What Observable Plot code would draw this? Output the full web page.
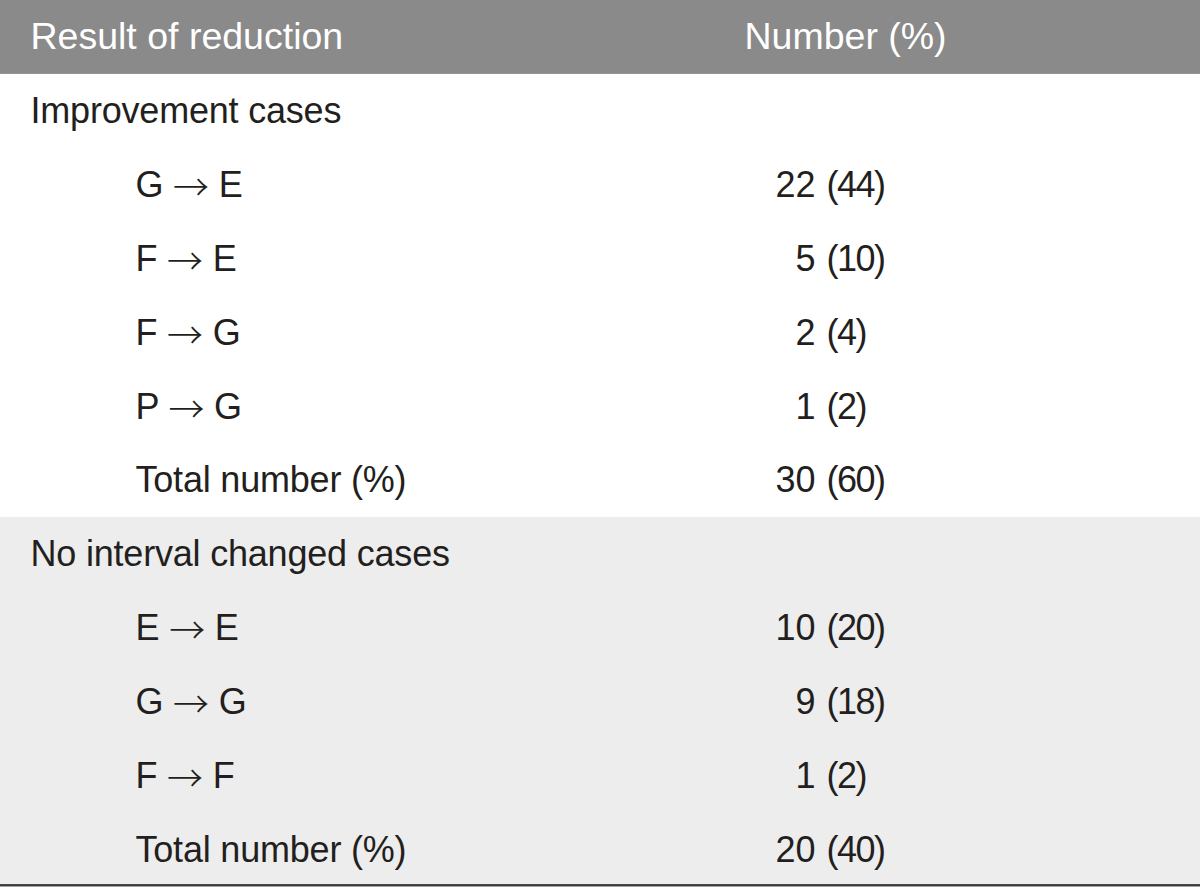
<!DOCTYPE html>
<html><head><meta charset="utf-8">
<script src="https://cdn.jsdelivr.net/npm/d3@7"></script>
<script src="https://cdn.jsdelivr.net/npm/@observablehq/plot@0.6"></script>
<style>
body{margin:0;background:#fff}
#chart svg{display:block}
.pct text{letter-spacing:-1.5px}
.lbl text{letter-spacing:-0.2px}
</style>
</head><body><div id="chart"></div>
<script>
const headers = ["Result of reduction", "Number (%)"];
const labels = ["Improvement cases","G → E","F → E","F → G","P → G","Total number (%)","No interval changed cases","E → E","G → G","F → F","Total number (%)"];
const levels = [0,1,1,1,1,1,0,1,1,1,1];
const groups = ["Improvement","Improvement","Improvement","Improvement","Improvement","Improvement","No change","No change","No change","No change","No change"];
const counts = [null,22,5,2,1,30,null,10,9,1,20];
const pcts = [null,44,10,4,2,60,null,20,18,2,40];

const rowKeys = ["header", ...labels.map((_, i) => "r" + i)];
const rows = labels.map((l, i) => ({key: "r" + i, label: l, level: levels[i], group: groups[i], count: counts[i], pct: pcts[i]}));
const valued = rows.filter(d => d.count != null);
const font = "Liberation Sans, Arial, sans-serif";
const fs = 36;
const ink = "#231f20";
const lastRow = rows.slice(-1);

const chart = Plot.plot({
  width: 1200, height: 887,
  margin: 0,
  x: {domain: [0, 1200], range: [0, 1200], axis: null},
  y: {domain: rowKeys, range: [0, 887], padding: 0, round: false, axis: null, type: "band"},
  style: {fontFamily: font, background: "#fff"},
  marks: [
    Plot.barX([{key: "header"}], {y: "key", x1: 0, x2: 1200, fill: "#8a8a8a"}),
    Plot.barX(rows.filter(d => d.group === "No change"), {y: "key", x1: 0, x2: 1200, fill: "#ecedec", insetTop: -0.5, insetBottom: -0.5}),
    Plot.barX(lastRow, {y: "key", x1: 0, x2: 1200, fill: "#3a3a3a", insetTop: 71, insetBottom: 0.6}),
    Plot.text([{key: "header", t: headers[0]}], {y: "key", x: 30, text: "t", textAnchor: "start", fill: "#fff", fontSize: 37.5}),
    Plot.text([{key: "header", t: headers[1]}], {y: "key", x: 744, text: "t", textAnchor: "start", fill: "#fff", fontSize: 37.5}),
    Plot.text(rows, {y: "key", x: d => d.level === 0 ? 30 : 135, text: "label", textAnchor: "start", fill: ink, fontSize: fs, className: "lbl"}),
    Plot.text(valued, {y: "key", x: 815, text: d => String(d.count), textAnchor: "end", fill: ink, fontSize: fs}),
    Plot.text(valued, {y: "key", x: 826, text: d => "(" + d.pct + ")", textAnchor: "start", fill: ink, fontSize: fs, className: "pct"})
  ]
});
// render arrows with a wider glyph (full-width arrow from a CJK font), nudged down to mid cap height
d3.select(chart).selectAll("text").each(function() {
  const t = this.textContent;
  if (!t.includes("→")) return;
  const sel = d3.select(this);
  sel.text(null);
  t.split(/(→)/).forEach(part => {
    if (!part) return;
    if (part === "→") {
      sel.append("tspan").text(part).attr("font-family", "Noto Sans CJK SC").attr("font-weight", 300).attr("dy", 4);
    } else {
      const ts = sel.append("tspan").text(part);
      if (sel.selectAll("tspan").size() > 1) ts.attr("dy", -4);
    }
  });
});
document.getElementById("chart").append(chart);
</script>
</body></html>
